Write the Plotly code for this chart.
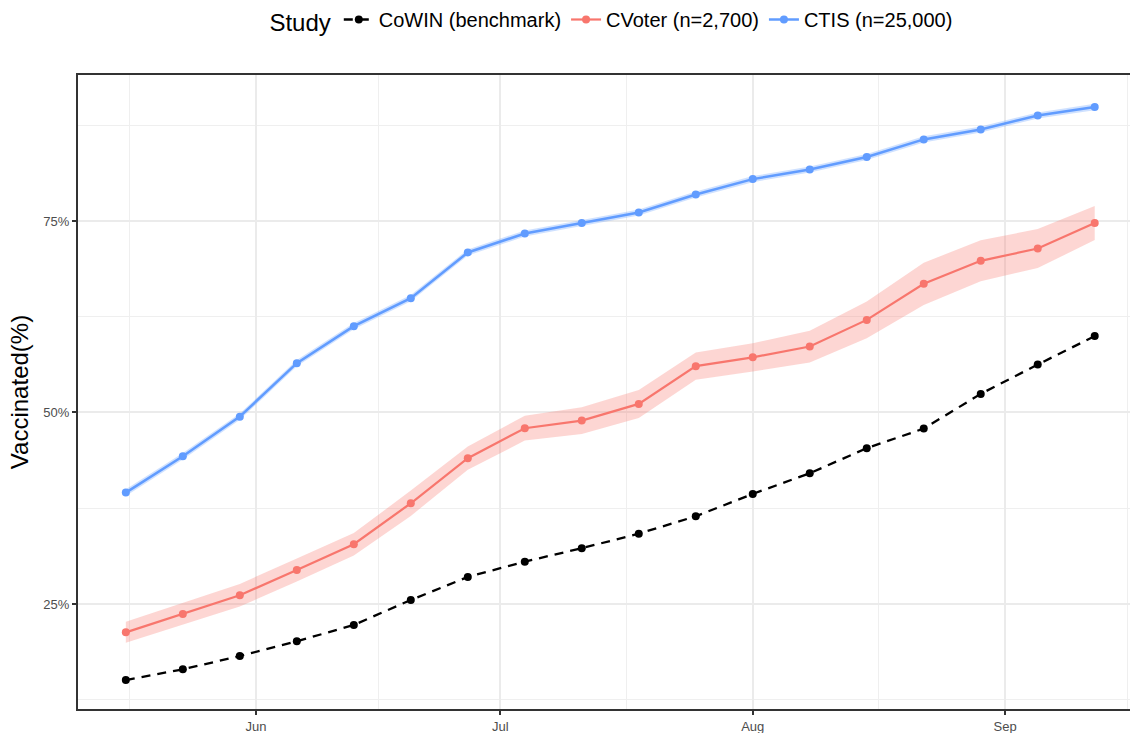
import plotly.graph_objects as go

# Weekly survey dates (2021)
dates = [
    "2021-05-16", "2021-05-23", "2021-05-30", "2021-06-06", "2021-06-13", "2021-06-20",
    "2021-06-27", "2021-07-04", "2021-07-11", "2021-07-18", "2021-07-25", "2021-08-01",
    "2021-08-08", "2021-08-15", "2021-08-22", "2021-08-29", "2021-09-05", "2021-09-12",
]

# Share vaccinated (%) by study
cowin = [15.07, 16.47, 18.21, 20.13, 22.26, 25.52, 28.53, 30.53, 32.28, 34.18, 36.45, 39.37,
         42.07, 45.34, 47.90, 52.43, 56.26, 59.97]

cvoter = [21.30, 23.69, 26.14, 29.44, 32.80, 38.15, 44.03, 47.95, 48.94, 51.12, 56.05, 57.20,
          58.61, 62.09, 66.80, 69.80, 71.41, 74.73]
cvoter_lo = [19.93, 22.28, 24.66, 27.94, 31.34, 36.50, 42.51, 46.33, 47.20, 49.29, 54.27, 55.35,
             56.54, 59.69, 64.04, 67.13, 68.86, 72.51]
cvoter_hi = [22.67, 25.10, 27.62, 30.94, 34.26, 39.80, 45.55, 49.57, 50.68, 52.95, 57.83, 59.05,
             60.68, 64.49, 69.56, 72.47, 73.96, 76.95]

ctis = [39.54, 44.29, 49.46, 56.44, 61.27, 64.93, 70.89, 73.37, 74.73, 76.11, 78.46, 80.47,
        81.73, 83.35, 85.65, 86.95, 88.78, 89.88]
ctis_lo = [39.10, 43.87, 49.06, 56.04, 60.87, 64.53, 70.49, 72.97, 74.33, 75.71, 78.06, 80.07,
           81.33, 82.95, 85.25, 86.55, 88.38, 89.46]
ctis_hi = [39.98, 44.71, 49.86, 56.84, 61.67, 65.33, 71.29, 73.77, 75.13, 76.51, 78.86, 80.87,
           82.13, 83.75, 86.05, 87.35, 89.18, 90.30]

series_names = ["CoWIN (benchmark)", "CVoter (n=2,700)", "CTIS (n=25,000)"]

# Axis breaks
month_breaks = ["2021-06-01", "2021-07-01", "2021-08-01", "2021-09-01"]
month_labels = ["Jun", "Jul", "Aug", "Sep"]
month_minor = ["2021-05-16 12:00", "2021-06-16", "2021-07-16 12:00", "2021-08-16 12:00", "2021-09-16"]
y_breaks = [25, 50, 75]
y_labels = ["25%", "50%", "75%"]
y_minor = [12.5, 37.5, 62.5, 87.5]

RED = "#F8766D"
BLUE = "#619CFF"
FONT = "Liberation Sans, Arial, sans-serif"

fig = go.Figure()


def ribbon(lo, hi, color):
    fig.add_trace(go.Scatter(
        x=dates + dates[::-1],
        y=hi + lo[::-1],
        fill="toself",
        fillcolor=color,
        line=dict(width=0),
        mode="lines",
        hoverinfo="skip",
        showlegend=False,
    ))


ribbon(cvoter_lo, cvoter_hi, "rgba(248,118,109,0.30)")
ribbon(ctis_lo, ctis_hi, "rgba(97,156,255,0.30)")

fig.add_trace(go.Scatter(
    x=dates, y=cowin, name=series_names[0], mode="lines+markers",
    line=dict(color="black", width=2.3, dash="9px,7px"),
    marker=dict(color="black", size=8),
))
fig.add_trace(go.Scatter(
    x=dates, y=cvoter, name=series_names[1], mode="lines+markers",
    line=dict(color=RED, width=2.2),
    marker=dict(color=RED, size=8),
))
fig.add_trace(go.Scatter(
    x=dates, y=ctis, name=series_names[2], mode="lines+markers",
    line=dict(color=BLUE, width=2.5),
    marker=dict(color=BLUE, size=8),
))

fig.update_layout(
    width=1130,
    height=733,
    margin=dict(l=78, r=0, t=75, b=24),
    paper_bgcolor="white",
    plot_bgcolor="white",
    font=dict(family=FONT, color="black"),
    legend=dict(
        orientation="h",
        x=0.508, xanchor="center",
        y=1.0, yref="container", yanchor="top",
        title=dict(text="Study", font=dict(size=24)),
        font=dict(size=20),
        bgcolor="rgba(0,0,0,0)",
    ),
    xaxis=dict(
        type="date",
        range=["2021-05-10 03:00", "2021-09-16 08:00"],
        tickmode="array",
        tickvals=month_breaks,
        ticktext=month_labels,
        tickfont=dict(size=13, color="#4D4D4D"),
        ticks="outside", ticklen=4, tickwidth=1.5, tickcolor="#333333",
        showgrid=True, gridcolor="#EBEBEB", gridwidth=2,
        minor=dict(tickvals=month_minor, showgrid=True, gridcolor="#EFEFEF", gridwidth=1, ticks=""),
        showline=True, linecolor="#333333", linewidth=2, mirror=True,
        zeroline=False,
    ),
    yaxis=dict(
        range=[11.29, 94.06],
        tickmode="array",
        tickvals=y_breaks,
        ticktext=y_labels,
        tickfont=dict(size=13, color="#4D4D4D"),
        ticks="outside", ticklen=4, tickwidth=1.5, tickcolor="#333333",
        showgrid=True, gridcolor="#EBEBEB", gridwidth=2,
        minor=dict(tickvals=y_minor, showgrid=True, gridcolor="#EFEFEF", gridwidth=1, ticks=""),
        showline=True, linecolor="#333333", linewidth=2, mirror=False,
        zeroline=False,
        title=dict(text="Vaccinated(%)", font=dict(size=24, color="black"), standoff=8),
    ),
)

fig.write_html("out.html")
